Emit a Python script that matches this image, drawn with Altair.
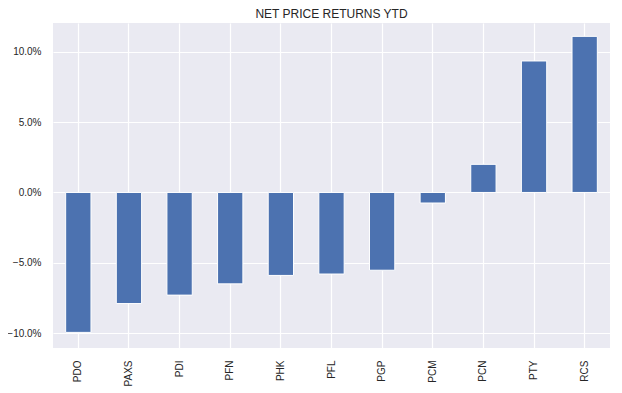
import altair as alt
import pandas as pd

tickers = ["PDO", "PAXS", "PDI", "PFN", "PHK", "PFL", "PGP", "PCM", "PCN", "PTY", "RCS"]
returns = [-0.0995, -0.079, -0.073, -0.065, -0.059, -0.058, -0.0553, -0.0075, 0.020, 0.0935, 0.111]

df = pd.DataFrame({"ticker": tickers, "ret": returns})

chart = alt.Chart(df).mark_bar(
    width=alt.RelativeBandSize(0.5), color="#4C72B0", stroke="white", strokeWidth=1
).encode(
    x=alt.X("ticker:N", sort=None, title=None,
            scale=alt.Scale(paddingInner=0, paddingOuter=0),
            axis=alt.Axis(labelAngle=270, labelFontSize=10, labelPadding=12,
                          labelColor="#262626", labelFont="Liberation Sans",
                          grid=True, gridColor="white", gridWidth=1.2,
                          ticks=False, domain=False, bandPosition=0.5)),
    y=alt.Y("ret:Q", title=None,
            scale=alt.Scale(domain=[-0.1106, 0.1205], nice=False, zero=False),
            axis=alt.Axis(format=".1%", values=[-0.1, -0.05, 0, 0.05, 0.1],
                          labelFontSize=10, labelPadding=12, labelColor="#262626",
                          labelFont="Liberation Sans",
                          grid=True, gridColor="white", gridWidth=1.2,
                          ticks=False, domain=False)),
).properties(
    width=557, height=325,
    title=alt.TitleParams("NET PRICE RETURNS YTD", fontSize=12, fontWeight="normal",
                          font="Liberation Sans", color="#262626", offset=2),
    autosize=alt.AutoSizeParams(type="none"),
    padding={"left": 45, "top": 15, "right": 4, "bottom": 39},
).configure_view(fill="#EAEAF2", stroke=None)

chart.save("out.html", embed_options={"renderer": "svg", "actions": False})
